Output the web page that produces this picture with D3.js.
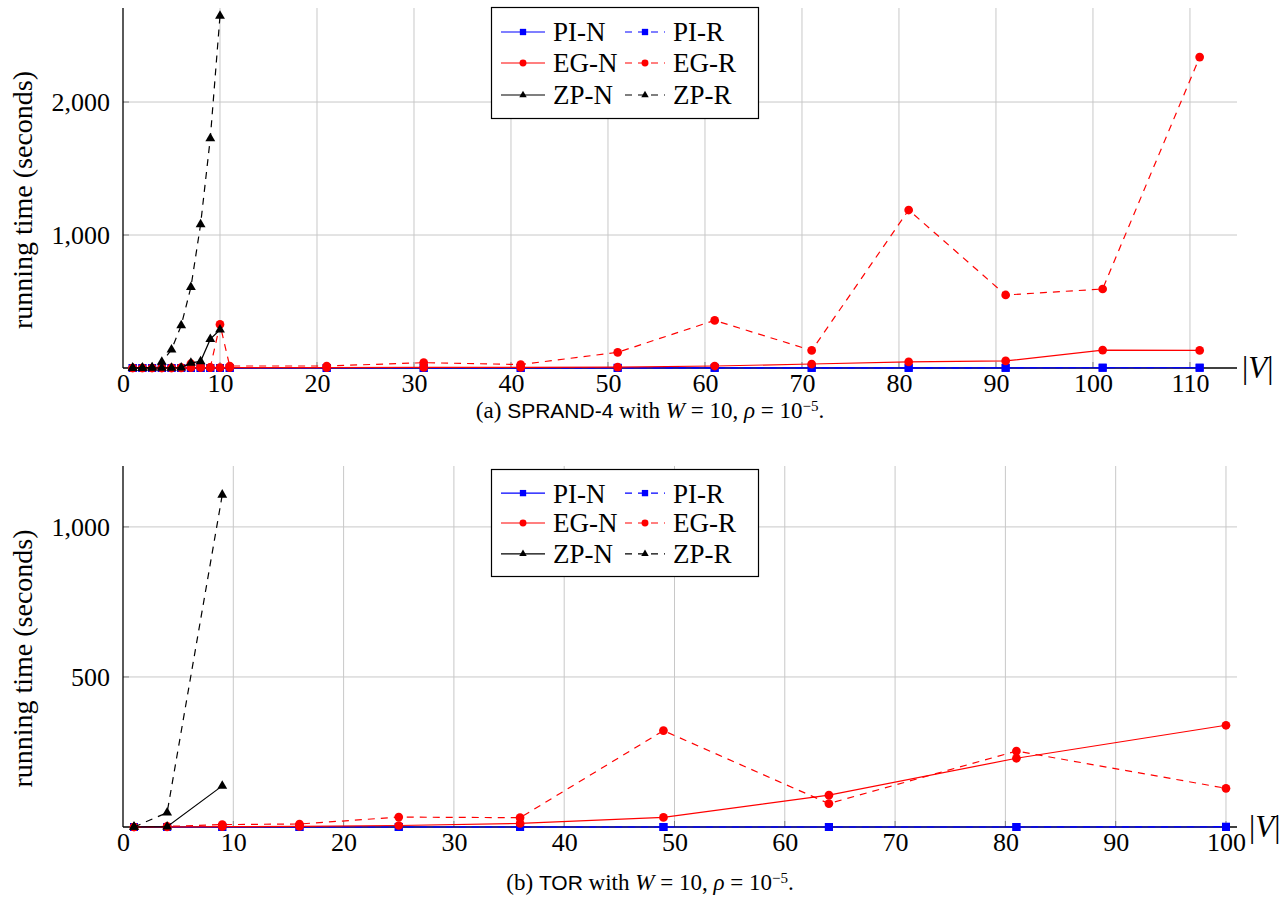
<!DOCTYPE html>
<html>
<head>
<meta charset="utf-8">
<script src="https://cdn.jsdelivr.net/npm/d3@7"></script>
<style>
  body { margin: 0; background: #fff; }
  svg { display: block; }
  text { font-family: "Liberation Serif", "DejaVu Serif", serif; fill: #000; }
</style>
</head>
<body>
<svg id="chart" width="1288" height="897"></svg>
<script>
// ---- data, panel (a) SPRAND-4 ----
var xSprand   = [1, 2, 3, 4, 5, 6, 7, 8, 9, 10, 11, 21, 31, 41, 51, 61, 71, 81, 91, 101, 111];
var xSprandZP = [1, 2, 3, 4, 5, 6, 7, 8, 9, 10];
var sprandPIN = [0, 0, 0, 0, 0, 0, 0, 0, 0, 0, 0, 0, 0, 0, 1, 1, 1, 1, 1, 2, 2];
var sprandPIR = [0, 0, 0, 0, 0, 0, 0, 0, 0, 0, 0, 0, 0, 1, 1, 1, 1, 1, 2, 2, 2];
var sprandEGN = [0, 0, 0, 0, 0, 1, 2, 2, 2, 3, 3, 3, 4, 5, 7, 15, 30, 46, 53, 135, 132];
var sprandEGR = [0, 0, 0, 0, 1, 3, 32, 10, 5, 328, 15, 15, 40, 26, 118, 358, 132, 1188, 549, 594, 2338];
var sprandZPN = [0, 0, 0, 1, 1, 3, 38, 50, 217, 288];
var sprandZPR = [0, 1, 5, 45, 138, 320, 607, 1080, 1727, 2647];

// ---- data, panel (b) TOR ----
var xTor   = [1, 4, 9, 16, 25, 36, 49, 64, 81, 100];
var xTorZP = [1, 4, 9];
var torPIN = [0, 0, 0, 0, 0, 0, 0, 0, 0, 0];
var torPIR = [0, 0, 0, 0, 0, 0, 0, 0, 0, 1];
var torEGN = [0, 0, 1, 2, 5, 12, 32, 106, 229, 339];
var torEGR = [0, 2, 8, 10, 33, 31, 321, 78, 253, 129];
var torZPN = [0, 1, 137];
var torZPR = [0, 48, 1107];

var seriesNames = ["PI-N", "PI-R", "EG-N", "EG-R", "ZP-N", "ZP-R"];
var xTicksA = [0, 10, 20, 30, 40, 50, 60, 70, 80, 90, 100, 110];
var yTicksA = [1000, 2000];
var xTicksB = [0, 10, 20, 30, 40, 50, 60, 70, 80, 90, 100];
var yTicksB = [500, 1000];

var svg = d3.select("#chart");

var styles = {
  "PI": { color: "#0000ff", shape: d3.symbolSquare, size: 64, legSize: 40 },
  "EG": { color: "#ff0000", shape: d3.symbolCircle, size: 60, legSize: 38 },
  "ZP": { color: "#000000", shape: d3.symbolTriangle, size: 42, legSize: 24 }
};

function makeSeries(xs, xsZP, piN, piR, egN, egR, zpN, zpR) {
  var vals = [piN, piR, egN, egR, zpN, zpR];
  return seriesNames.map(function(name, i) {
    var xv = i >= 4 ? xsZP : xs;
    return {
      name: name,
      kind: name.slice(0, 2),
      dashed: name.slice(3) == "R",
      points: vals[i].map(function(v, j) { return { x: xv[j], y: v }; })
    };
  });
}

function drawPanel(cfg) {
  var g = svg.append("g");
  var x = d3.scaleLinear().domain(cfg.xDomain).range([123, 1237]);
  var y = d3.scaleLinear().domain(cfg.yDomain).range([cfg.bottom, cfg.top]);

  // grid
  g.selectAll(".vgrid").data(cfg.xTicks.filter(function(d) { return d > 0; }))
    .enter().append("line")
      .attr("x1", function(d) { return x(d); }).attr("x2", function(d) { return x(d); })
      .attr("y1", cfg.top).attr("y2", cfg.bottom)
      .attr("stroke", "#c8c8c8").attr("stroke-width", 1);
  g.selectAll(".hgrid").data(cfg.yTicks)
    .enter().append("line")
      .attr("x1", 123).attr("x2", 1237)
      .attr("y1", function(d) { return y(d); }).attr("y2", function(d) { return y(d); })
      .attr("stroke", "#c8c8c8").attr("stroke-width", 1);

  // small tick marks
  g.selectAll(".xt").data(cfg.xTicks.filter(function(d) { return d > 0; }))
    .enter().append("line")
      .attr("x1", function(d) { return x(d); }).attr("x2", function(d) { return x(d); })
      .attr("y1", cfg.bottom).attr("y2", cfg.bottom - 6)
      .attr("stroke", "#808080");
  g.selectAll(".yt").data(cfg.yTicks)
    .enter().append("line")
      .attr("x1", 123).attr("x2", 129)
      .attr("y1", function(d) { return y(d); }).attr("y2", function(d) { return y(d); })
      .attr("stroke", "#808080");

  // axes labels via d3 axis
  var xAxis = g.append("g").attr("transform", "translate(0," + cfg.bottom + ")")
    .call(d3.axisBottom(x).tickValues(cfg.xTicks).tickSize(0).tickPadding(6).tickFormat(d3.format("d")));
  var yAxis = g.append("g").attr("transform", "translate(123,0)")
    .call(d3.axisLeft(y).tickValues(cfg.yTicks).tickSize(0).tickPadding(13).tickFormat(d3.format(",")));
  [xAxis, yAxis].forEach(function(a) {
    a.select(".domain").remove();
    a.selectAll("text").style("font-family", "'Liberation Serif', serif").style("font-size", "26px");
  });

  // axis lines
  g.append("line").attr("x1", 123).attr("x2", 123).attr("y1", cfg.top).attr("y2", cfg.bottom)
    .attr("stroke", "#000").attr("stroke-width", 1.3);
  g.append("line").attr("x1", 123).attr("x2", 1237).attr("y1", cfg.bottom).attr("y2", cfg.bottom)
    .attr("stroke", "#000").attr("stroke-width", 1.3);

  // |V|
  var vl = g.append("text").attr("x", cfg.vLabelX).attr("y", cfg.bottom + 10).style("font-size", "31px");
  vl.append("tspan").text("|");
  vl.append("tspan").style("font-style", "italic").text("V");
  vl.append("tspan").text("|");

  // y label
  g.append("text")
    .attr("transform", "translate(32," + ((cfg.top + cfg.bottom) / 2 + 12) + ") rotate(-90)")
    .attr("text-anchor", "middle").style("font-size", "28px")
    .text("running time (seconds)");

  // series
  var line = d3.line().x(function(d) { return x(d.x); }).y(function(d) { return y(d.y); });
  cfg.series.forEach(function(s) {
    var st = styles[s.kind];
    g.append("path").datum(s.points)
      .attr("d", line)
      .attr("fill", "none").attr("stroke", st.color).attr("stroke-width", 1.2)
      .attr("stroke-dasharray", s.dashed ? "7,6" : null);
    g.selectAll(null).data(s.points).enter().append("path")
      .attr("d", d3.symbol().type(st.shape).size(st.size))
      .attr("transform", function(d) { return "translate(" + x(d.x) + "," + y(d.y) + ")"; })
      .attr("fill", st.color);
  });

  // legend
  var lg = g.append("g").attr("transform", "translate(491," + cfg.legendTop + ")");
  lg.append("rect").attr("x", 0.5).attr("y", 0.5).attr("width", 267).attr("height", cfg.legendH)
    .attr("fill", "#fff").attr("stroke", "#000").attr("stroke-width", 1.2);
  var rowY = [25, 56, 88];
  var colX = [10, 134];
  cfg.series.forEach(function(s, i) {
    var st = styles[s.kind];
    var r = Math.floor(i / 2), c = i % 2;
    var ly = rowY[r] * cfg.legendH / 111;
    var lx = colX[c];
    var w = c == 0 ? 44 : 40;
    lg.append("line").attr("x1", lx).attr("x2", lx + w).attr("y1", ly).attr("y2", ly)
      .attr("stroke", st.color).attr("stroke-width", 1.2)
      .attr("stroke-dasharray", s.dashed ? "7,6" : null);
    lg.append("path").attr("d", d3.symbol().type(st.shape).size(st.legSize))
      .attr("transform", "translate(" + (lx + w / 2) + "," + ly + ")")
      .attr("fill", st.color);
    lg.append("text").attr("x", lx + w + 8).attr("y", ly).attr("dy", "0.35em")
      .style("font-size", "27px").text(s.name);
  });

  // caption
  var cap = g.append("text").attr("x", 650).attr("y", cfg.captionY)
    .attr("text-anchor", "middle").style("font-size", "23px");
  cap.append("tspan").text("(" + cfg.tag + ") ");
  cap.append("tspan").style("font-family", "'Liberation Sans', sans-serif").style("font-size", "21px").text(cfg.family);
  cap.append("tspan").text(" with ");
  cap.append("tspan").style("font-style", "italic").text("W");
  cap.append("tspan").text(" = 10, ");
  cap.append("tspan").style("font-style", "italic").text("ρ");
  cap.append("tspan").text(" = 10");
  cap.append("tspan").attr("dy", "-7").style("font-size", "15px").text("−5");
  cap.append("tspan").attr("dy", "7").text(".");
}

drawPanel({
  top: 8, bottom: 368,
  xDomain: [0, 114.85], yDomain: [0, 2707],
  xTicks: xTicksA, yTicks: yTicksA,
  series: makeSeries(xSprand, xSprandZP, sprandPIN, sprandPIR, sprandEGN, sprandEGR, sprandZPN, sprandZPR),
  legendTop: 7, legendH: 111,
  captionY: 418, tag: "a", family: "SPRAND-4", vLabelX: 1242
});

drawPanel({
  top: 466, bottom: 827,
  xDomain: [0, 101], yDomain: [0, 1203],
  xTicks: xTicksB, yTicks: yTicksB,
  series: makeSeries(xTor, xTorZP, torPIN, torPIR, torEGN, torEGR, torZPN, torZPR),
  legendTop: 469, legendH: 107,
  captionY: 890, tag: "b", family: "TOR", vLabelX: 1249
});
</script>
</body>
</html>
